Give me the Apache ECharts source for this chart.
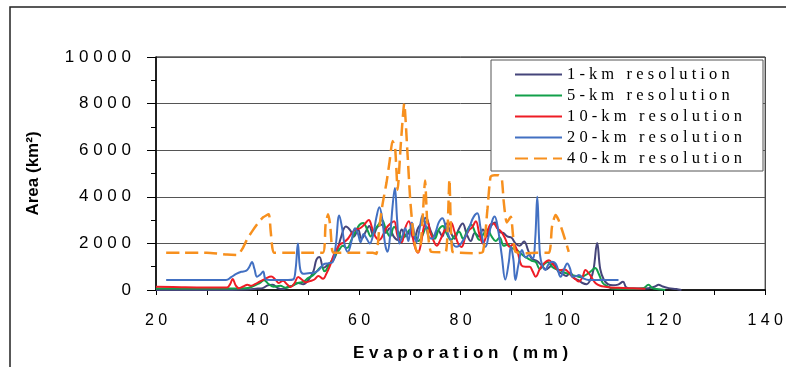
<!DOCTYPE html>
<html><head><meta charset="utf-8">
<script src="https://cdn.jsdelivr.net/npm/echarts@6/dist/echarts.min.js"></script>
<style>html,body{margin:0;padding:0;background:#fff}#c{width:786px;height:367px}</style>
</head><body><div id="c"></div><script>
// ---- data ----
const seriesNames = ['1-km resolution','5-km resolution','10-km resolution','20-km resolution','40-km resolution'];
const xTicks = [20,40,60,80,100,120,140];
const yTicks = [0,2000,4000,6000,8000,10000];

const res1km = [[20,0],[25,0],[30,0],[35,0],[38,20],[40,60],[41,80],[42,200],[43,230],[44,80],[45,40],[46,130],[47,200],[48,300],[49,250],[50,420],[51,800],[51.6,1300],[52.2,1420],[53,950],[54,1120],[55,1300],[55.7,1700],[56.5,2300],[57.4,2720],[58.3,2550],[59,2300],[59.8,2600],[60.5,2200],[61.3,2500],[62,2750],[62.8,2350],[63.6,2700],[64.5,2800],[65.3,2450],[66,2650],[66.8,2300],[67.6,2150],[68.4,2600],[69.2,2300],[70,2500],[70.8,2200],[71.6,2650],[72.4,2900],[73.2,3100],[74,2600],[74.8,2300],[75.6,2550],[76.4,2300],[77.2,2850],[78,2500],[78.8,2200],[79.6,2600],[80.4,2850],[81.2,2400],[82,2100],[82.8,2450],[83.6,2300],[84.4,2600],[85.2,2300],[86,2750],[86.8,2900],[87.6,2500],[88.4,2450],[89.2,2300],[90,2250],[90.8,2000],[91.6,1900],[92.5,2080],[93.3,1700],[94,1350],[95,1250],[96,1050],[96.8,880],[97.6,1000],[98.4,1150],[99.2,800],[100,700],[100.8,600],[101.6,750],[102.4,500],[103.2,420],[104,300],[104.8,250],[105.6,450],[106.2,900],[106.9,2020],[107.5,900],[108.2,450],[109,250],[110,200],[111,230],[112,350],[112.6,120],[113.5,60],[115,60],[117,80],[118.3,150],[119,220],[119.8,150],[121,80],[122.5,40],[123.5,0]];

const res5km = [[20,60],[25,60],[30,60],[35,60],[37.5,70],[39,150],[40.4,300],[41.3,420],[42.2,250],[43.2,140],[44.5,180],[45.5,100],[46.5,150],[47.9,300],[49,350],[50,520],[51,650],[51.8,830],[52.6,1000],[53.2,800],[54,1050],[55,1400],[56,1700],[56.8,1900],[57.6,1800],[58.5,2150],[59.3,2500],[60.1,2800],[60.8,2880],[61.6,2600],[62.3,2300],[63,2550],[63.8,2800],[64.5,3000],[65.3,2600],[66.1,2300],[66.9,2700],[67.7,2500],[68.5,2200],[69.3,2400],[70.1,2600],[70.9,2400],[71.7,2100],[72.5,2350],[73.3,2700],[74.1,2450],[74.9,2200],[75.7,2600],[76.5,2750],[77.3,2400],[78.1,2150],[78.9,2350],[79.7,2500],[80.5,2200],[81.3,2550],[82.1,2800],[82.9,2450],[83.7,2150],[84.5,2400],[85.3,2600],[86.1,2300],[86.9,2100],[87.7,2250],[88.5,1900],[89.3,1950],[90.1,1800],[90.9,1750],[91.7,1600],[92.5,1450],[93.3,1350],[94,1250],[94.8,1200],[95.6,900],[96.4,1100],[97.2,1200],[98,1000],[98.8,900],[99.6,850],[100.4,750],[101.2,700],[102,640],[102.8,600],[103.6,560],[104.4,620],[105.2,720],[105.9,850],[106.5,940],[107.2,700],[108,300],[109,150],[110,60],[112,50],[114,50],[116,80],[117,220],[117.8,80],[119,30],[120.3,0]];

const res10km = [[20,140],[25,120],[30,110],[34,110],[34.6,250],[35.1,470],[35.7,200],[36.3,80],[37.2,150],[38,230],[38.6,180],[39.5,250],[40.4,360],[41.5,480],[42.7,580],[43.5,450],[44.2,300],[45,400],[45.8,250],[46.5,130],[47.3,300],[48,560],[48.7,450],[49.5,330],[50.3,380],[51.2,450],[52,600],[52.9,480],[53.6,720],[54.2,1000],[55,1500],[55.6,1750],[56.2,1950],[57,2050],[57.8,2200],[58.6,2450],[59.4,2600],[60.2,2650],[61,2800],[61.9,3000],[62.6,2650],[63.2,2300],[64,2150],[64.8,2400],[65.5,2700],[66.2,2850],[66.9,2950],[67.6,2300],[68.4,2050],[69,2600],[69.8,2950],[70.4,2450],[71,1850],[71.6,1600],[72.2,2000],[72.8,2750],[73.4,2950],[74,2500],[74.6,2150],[75.3,1900],[76,2150],[76.7,2500],[77.4,2700],[78.1,2900],[78.8,2500],[79.5,2000],[80.2,1850],[80.9,2250],[81.6,2550],[82.3,2700],[83,2950],[83.7,2400],[84.4,2000],[85.1,2350],[85.8,2800],[86.5,2850],[87.2,2650],[88,2500],[88.8,2200],[89.6,1860],[90.4,1950],[91.2,1650],[92,1050],[92.8,1000],[93.6,1000],[94.2,800],[94.8,570],[95.6,900],[96.4,1140],[97.4,1280],[98.2,1100],[99,900],[99.7,850],[100.5,880],[101.3,750],[102,570],[102.7,450],[103.3,360],[104,550],[104.6,860],[105.3,700],[105.9,500],[106.6,290],[107.5,180],[108.5,140],[110,100],[112,90],[114,70],[116.4,50]];

const res20km = [[22,430],[25,430],[30,430],[33.8,430],[34.8,550],[35.8,690],[36.8,780],[37.8,830],[38.4,1000],[38.9,1200],[39.4,900],[39.9,570],[40.5,650],[41.1,790],[41.6,460],[42.5,430],[44,430],[46,430],[47,450],[47.5,900],[47.95,2000],[48.4,900],[49,700],[50,720],[51,740],[52,850],[53,1100],[54,1150],[54.8,1200],[55.4,1900],[56.1,3200],[56.7,2600],[57.2,1900],[57.8,1640],[58.4,2000],[59.2,2650],[59.8,2400],[60.3,2050],[60.9,2400],[61.5,2200],[62.1,2000],[62.8,2400],[63.4,3100],[64,3550],[64.6,3000],[65.1,2000],[65.6,1640],[66.1,2300],[66.6,3600],[67.05,4380],[67.5,3000],[67.95,2000],[68.5,2300],[69.1,2650],[69.7,2100],[70.4,2900],[70.9,2400],[71.3,2050],[71.9,2600],[72.5,3200],[73.1,2800],[73.7,2300],[74.4,2200],[75.1,2500],[75.7,2900],[76.4,3080],[77.1,2700],[77.7,2300],[78.4,2000],[79.1,1860],[79.7,1900],[80.4,2100],[81.2,2400],[81.9,2800],[82.6,3150],[83.3,3290],[83.9,2700],[84.5,2000],[84.9,1860],[85.5,2300],[86.2,2950],[86.7,3150],[87.3,2700],[88.1,1500],[88.8,450],[89.5,1200],[89.9,1860],[90.4,1300],[90.8,430],[91.4,1100],[92.1,1720],[92.8,1400],[93.5,1500],[94.2,1350],[94.7,2200],[95.1,4000],[95.5,2000],[95.8,1290],[96.7,860],[97.3,1100],[98,1210],[98.8,1100],[99.7,570],[100.4,900],[101,1140],[101.6,900],[102,570],[102.8,600],[103.3,640],[104.2,500],[105.2,430],[108,430],[111.1,430]];

const res40km = [[22,1600],[25,1600],[30,1600],[32,1570],[34,1520],[36,1500],[37.1,1800],[38,2200],[39.1,2570],[40.2,2900],[41.1,3120],[42.2,3250],[42.6,2500],[43.2,1600],[45,1600],[50,1600],[52.9,1600],[53.4,2800],[53.9,3250],[54.3,2800],[54.7,1700],[55,1600],[60,1600],[62.7,1600],[63.4,1550],[64,2700],[64.6,3650],[65.4,4600],[66,5500],[66.6,6400],[67.1,6100],[67.6,4300],[68.2,6200],[68.9,8000],[69.5,6000],[70.1,3800],[70.8,2200],[71.4,1640],[72,1700],[72.5,3000],[73,4700],[73.5,2600],[74.2,1640],[76,1620],[77.1,1640],[77.5,3000],[77.8,4750],[78.4,1640],[80,1600],[83,1580],[84.4,1640],[85.3,3500],[85.9,4860],[86.6,4930],[87.5,4930],[88.1,4800],[88.5,3780],[89.1,2900],[89.9,3140],[90.3,2400],[90.8,1640],[93,1580],[95,1600],[97.4,1600],[98,2720],[98.7,3220],[99.3,3000],[100.2,2430],[101.3,1640]];

const colors = ['#45457a','#12a04a','#ee1c25','#4270c2','#f7901e'];

// ---- helpers ----
function sp(s){ return String(s).split('').join(' '); }

const chart = echarts.init(document.getElementById('c'), null, {renderer:'canvas'});
const dataSets = [res1km,res5km,res10km,res20km,res40km];

chart.setOption({
  animation:false,
  backgroundColor:'#fff',
  grid:{left:156, right:19, top:57, bottom:77, show:true, borderColor:'#000', borderWidth:1, backgroundColor:'transparent'},
  xAxis:{
    type:'value', min:xTicks[0], max:xTicks[xTicks.length-1], interval:20,
    axisLine:{lineStyle:{color:'#000', width:1.5}},
    axisTick:{length:5, lineStyle:{color:'#000'}},
    minorTick:{show:true, splitNumber:2, length:5, lineStyle:{color:'#000'}},
    splitLine:{show:false},
    axisLabel:{margin:23, fontFamily:'Liberation Sans', fontSize:16, color:'#000', formatter:v=>sp(v)},
    name: sp('Evaporation (mm)'), nameLocation:'middle', nameGap:55,
    nameTextStyle:{fontFamily:'Liberation Sans', fontWeight:'bold', fontSize:17, color:'#000'}
  },
  yAxis:{
    type:'value', min:yTicks[0], max:yTicks[yTicks.length-1], interval:2000,
    axisLine:{show:true, lineStyle:{color:'#000', width:1.5}},
    axisTick:{show:true, length:9, lineStyle:{color:'#000'}},
    minorTick:{show:true, splitNumber:2, length:5, lineStyle:{color:'#000'}},
    splitLine:{show:true, lineStyle:{color:'#555', width:1}},
    axisLabel:{margin:25, fontFamily:'Liberation Sans', fontSize:17, color:'#000', formatter:v=>sp(v)},
    name:'Area (km²)', nameLocation:'middle', nameGap:114, nameRotate:90,
    nameTextStyle:{fontFamily:'Liberation Sans', fontWeight:'bold', fontSize:17, color:'#000'}
  },
  legend:{
    orient:'vertical', left:514, top:66, itemWidth:47, itemHeight:14, itemGap:4, padding:0,
    itemStyle:{opacity:0},
    textStyle:{fontFamily:'Liberation Serif', fontSize:16.5, color:'#000', lineHeight:17},
    formatter:n=>sp(n), data:seriesNames, z:10
  },
  graphic:[
    {type:'rect', z:3, silent:true, shape:{x:491, y:60, width:272, height:111}, style:{fill:'#fff', stroke:'#555', lineWidth:1}},
    {type:'rect', z:1, silent:true, shape:{x:10, y:7, width:900, height:500}, style:{fill:'none', stroke:'#222', lineWidth:1.5}}
  ],
  series: seriesNames.map((n,i)=>({
    name:n, type:'line', data:dataSets[i], symbol:'none', showSymbol:false,
    smooth: i===4 ? 0.2 : 0.4,
    lineStyle:{color:colors[i], width: i===4 ? 2.5 : 2, type: i===4 ? [13,6] : 'solid'},
    itemStyle:{color:colors[i]},
    z: 2 + i*0.01
  }))
});
</script></body></html>
